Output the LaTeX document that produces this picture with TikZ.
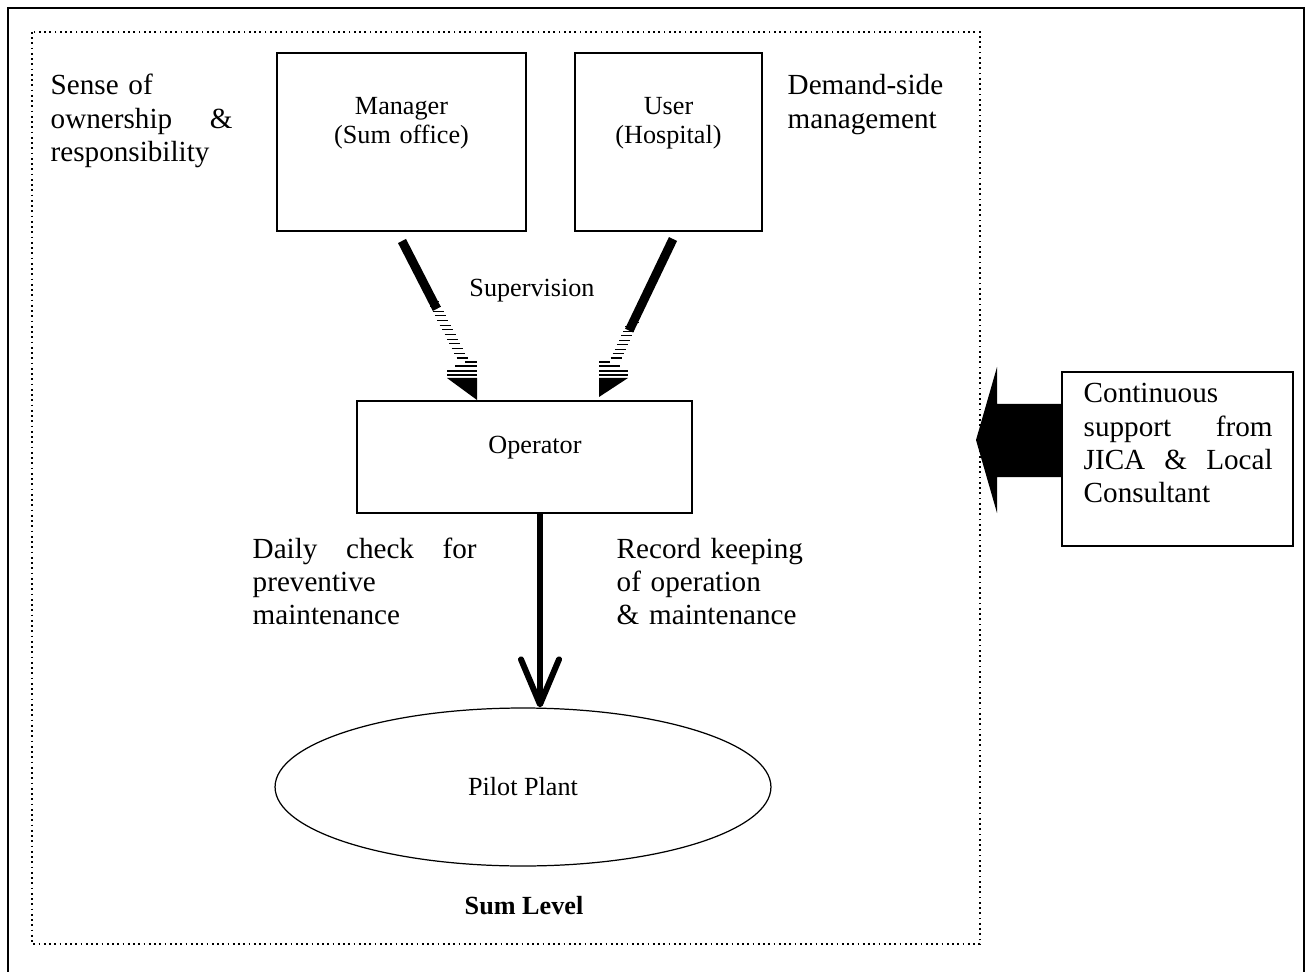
\documentclass[tikz,border=0pt]{standalone}
\usepackage{fontspec}
\setmainfont{Liberation Serif}
\usetikzlibrary{shapes.geometric,arrows.meta,calc}

\begin{document}
\begin{tikzpicture}
[x=0.02cm, y=-0.02cm, line width=0.8pt,
box/.style={rectangle, draw, line width=0.85pt, inner sep=0pt},
boxtext/.style={font=\fontsize{14.9}{16.5}\selectfont, inner sep=0pt, anchor=base},
note/.style={font=\fontsize{16.6}{18.8}\selectfont, inner sep=0pt, anchor=base west},
shaft/.style={line width=0.18cm},
hatchline/.style={line width=0.6pt},
head/.style={fill=black, draw=none}]

\useasboundingbox (0,0) rectangle (1310,972);

% frames
\draw[line width=0.04cm] (8,8) rectangle (1304,990);
\draw[line width=0.035cm, dash pattern=on 0.035cm off 0.07cm] (32,32) rectangle (980,944);

% boxes
\node[box, minimum width=4.98cm, minimum height=3.56cm] (manager) at (401.5,142) {};
\node[box, minimum width=3.74cm, minimum height=3.56cm] (user) at (668.5,142) {};
\node[box, minimum width=6.70cm, minimum height=2.24cm] (operator) at (524.5,457) {};
\node[box, minimum width=4.62cm, minimum height=3.48cm] (jica) at (1177.5,459) {};
\node[ellipse, draw, line width=0.7pt, inner sep=0pt, minimum width=9.92cm, minimum height=3.16cm,
      font=\fontsize{14.9}{16.5}\selectfont] (plant) at (523,787) {Pilot Plant};

\node[boxtext, text width=4.6cm, align=center] (managertext) at (401.5,115) {Manager\\(Sum office)};
\node[boxtext, text width=3.5cm, align=center] (usertext) at (668.5,115) {User\\(Hospital)};
\node[boxtext] (operatortext) at (535,454) {Operator};
\node[boxtext] (supervision) at (532,297) {Supervision};
\node[boxtext, font=\fontsize{14.9}{16.5}\selectfont\bfseries] (level) at (524,914) {Sum Level};

% notes
\node[note, text width=3.64cm] (ownership) at (50,95) {Sense of\\ ownership\hfill\&\\ responsibility};
\node[note, text width=3.6cm] (demand) at (787,95) {Demand-side\\ management};
\node[note, text width=4.48cm] (daily) at (252,558) {Daily\hfill check\hfill for\\ preventive\\ maintenance};
\node[note, text width=4.4cm] (record) at (616,558) {Record keeping\\ of operation\\ \& maintenance};
\node[note, text width=3.78cm] (support) at (1083,403) {Continuous\\ support\hfill from\\ JICA\hfill\&\hfill Local\\ Consultant};

% striped arrows to the operator
\coordinate (mA) at (402,241); \coordinate (mB) at (462,358);
\coordinate (uA) at (673,239); \coordinate (uB) at (616,358);
\draw[shaft] (mA) -- ($(mA)!0.58!(mB)$);
\draw[shaft] (uA) -- ($(uA)!0.77!(uB)$);
\foreach \i in {0,...,12} {
  \draw[hatchline] ($(mA)!0.52+0.04*\i!(mB)$) +(-5.5,0) -- +(5.5,0);
}
\foreach \i in {0,...,8} {
  \draw[hatchline] ($(uA)!0.70+0.0375*\i!(uB)$) +(-5.5,0) -- +(5.5,0);
}
\draw[hatchline] (465,362) -- (477,362);
\draw[hatchline] (455,366) -- (477,366);
\draw[hatchline] (447,371) -- (477,371);
\draw[hatchline] (447,375) -- (477,375);
\fill[head] (447,378) -- (477,378) -- (477,400) -- cycle;
\draw[hatchline] (599,362) -- (610,362);
\draw[hatchline] (599,366) -- (620,366);
\draw[hatchline] (599,371) -- (628,371);
\draw[hatchline] (599,375) -- (628,375);
\fill[head] (599,378) -- (628,378) -- (599,397) -- cycle;

% operator to plant
\coordinate (down) at (540,708);
\draw[line width=0.12cm, -{Straight Barb[length=0.9cm, width=0.76cm, round]}]
  (operator.south -| down) -- (plant.north -| down);

% support arrow
\fill (976,440) -- (997,367) -- (997,404) -- (jica.west |- 0,404) -- (jica.west |- 0,477)
  -- (997,477) -- (997,513) -- cycle;
\end{tikzpicture}
\end{document}
